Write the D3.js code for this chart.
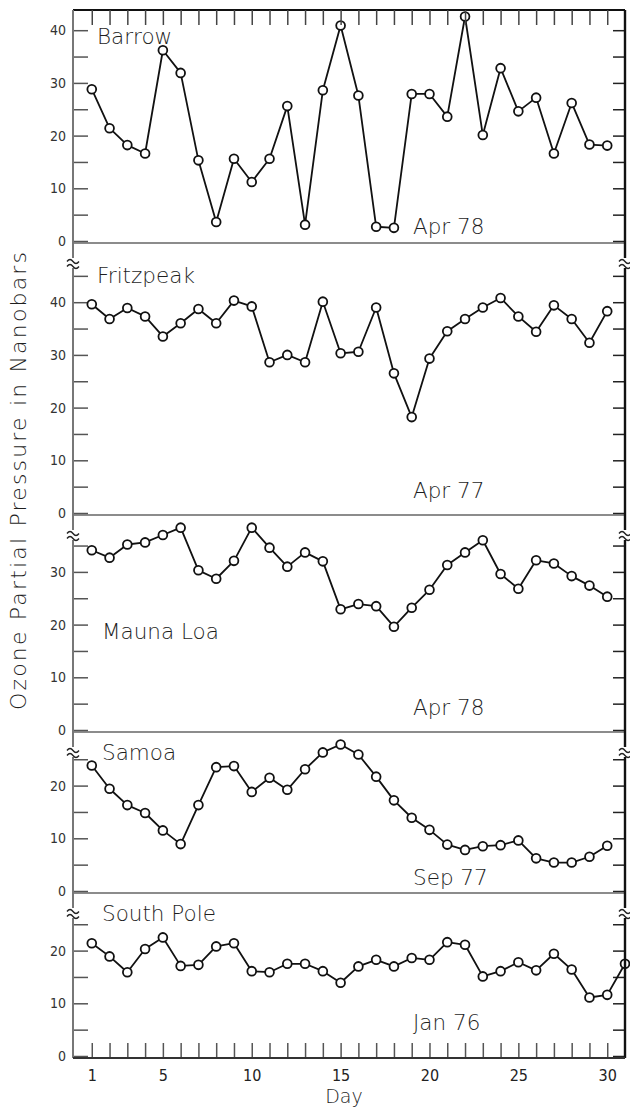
<!DOCTYPE html>
<html>
<head>
<meta charset="utf-8">
<script src="https://cdn.jsdelivr.net/npm/d3@7"></script>
<style>
  html, body { margin: 0; padding: 0; background: #fff; }
  svg { display: block; }
</style>
</head>
<body>
<svg id="chart" width="630" height="1112"></svg>
<script>
// Daily ozone partial pressure (nanobars) at five stations
const stationNames = ["Barrow", "Fritzpeak", "Mauna Loa", "Samoa", "South Pole"];
const monthLabels = ["Apr 78", "Apr 77", "Apr 78", "Sep 77", "Jan 76"];

const barrow = [28.8, 21.4, 18.2, 16.6, 36.2, 31.9, 15.3, 3.6, 15.6, 11.2, 15.6, 25.6, 3.1, 28.6, 40.9,
                27.6, 2.7, 2.5, 27.9, 27.9, 23.6, 42.6, 20.1, 32.8, 24.6, 27.2, 16.6, 26.2, 18.3, 18.1];
const fritzpeak = [39.6, 36.8, 38.9, 37.3, 33.5, 36.0, 38.7, 36.0, 40.3, 39.2, 28.6, 30.0, 28.6, 40.1, 30.3,
                   30.6, 39.0, 26.5, 18.2, 29.3, 34.5, 36.8, 39.0, 40.8, 37.3, 34.4, 39.4, 36.8, 32.3, 38.3];
const maunaLoa = [34.1, 32.7, 35.2, 35.6, 37.0, 38.4, 30.3, 28.7, 32.1, 38.4, 34.6, 31.0, 33.7, 32.0, 22.9,
                  23.9, 23.5, 19.6, 23.2, 26.6, 31.3, 33.7, 36.0, 29.6, 26.8, 32.2, 31.6, 29.2, 27.4, 25.3];
const samoa = [23.8, 19.4, 16.3, 14.8, 11.5, 8.9, 16.3, 23.5, 23.7, 18.8, 21.5, 19.2, 23.1, 26.3, 27.8,
               25.9, 21.7, 17.2, 13.9, 11.6, 8.8, 7.8, 8.5, 8.7, 9.6, 6.2, 5.4, 5.4, 6.5, 8.6];
const southPole = [21.4, 18.9, 15.9, 20.3, 22.5, 17.1, 17.3, 20.8, 21.4, 16.1, 15.9, 17.5, 17.5, 16.1, 13.9,
                   17.0, 18.25, 17.0, 18.6, 18.25, 21.6, 21.1, 15.1, 16.1, 17.8, 16.25, 19.4, 16.4, 11.1, 11.6, 17.5];

const seriesValues = [barrow, fritzpeak, maunaLoa, samoa, southPole];
const dayTickLabels = [1, 5, 10, 15, 20, 25, 30];

// Layout
const left = 73, right = 625;
const panelEdges = [10, 243, 515, 732, 893, 1058];   // top of each panel, last = bottom axis
const pxPerUnit = 5.27;
const zeroLift = 2;

const svg = d3.select("#chart");
const textColor = "#1e1e1e";
const labelFont = "'DejaVu Sans', sans-serif";
const labelWeight = 200;

const x = d3.scaleLinear().domain([0, 31]).range([left + 1, right]);

const lineGen = (y) => d3.line().x((d, i) => x(i + 1)).y(d => y(d));

function breakMark(g, cx, cy) {
  g.append("rect").attr("x", cx - 3).attr("y", cy - 5).attr("width", 6).attr("height", 10).attr("fill", "#fff");
  [-2.5, 2.5].forEach(dy => {
    g.append("path")
      .attr("d", `M${cx - 6},${cy + dy + 1} q3,-4 6,0 t6,0`)
      .attr("fill", "none").attr("stroke", "#222").attr("stroke-width", 1.3);
  });
}

seriesValues.forEach((vals, p) => {
  const top = panelEdges[p], bottom = panelEdges[p + 1];
  const zero = bottom - zeroLift;
  const maxVal = (zero - top) / pxPerUnit;
  const y = d3.scaleLinear().domain([0, maxVal]).range([zero, top]);
  const g = svg.append("g");

  // tick values every 5 units, keeping clear of the top edge / break mark
  const limit = p === 0 ? top + 12 : top + 24;
  const tickVals = d3.range(0, 60, 5).filter(v => y(v) >= limit && v <= maxVal);

  const leftAxis = d3.axisLeft(y)
    .tickValues(tickVals)
    .tickSizeInner(-15).tickSizeOuter(0).tickPadding(7)
    .tickFormat(v => v % 10 === 0 ? v : "");
  const la = g.append("g").attr("transform", `translate(${left},0)`).call(leftAxis);
  la.select(".domain").remove();
  la.selectAll(".tick line").attr("stroke", "#555").attr("stroke-width", 1.5);
  la.selectAll(".tick text")
    .attr("font-family", "'DejaVu Sans Condensed', 'DejaVu Sans', sans-serif")
    .attr("font-stretch", "condensed")
    .attr("font-size", 14).attr("fill", "#333");

  const rightAxis = d3.axisRight(y)
    .tickValues(tickVals)
    .tickSizeInner(-12).tickSizeOuter(0)
    .tickFormat("");
  const ra = g.append("g").attr("transform", `translate(${right},0)`).call(rightAxis);
  ra.select(".domain").remove();
  ra.selectAll(".tick line").attr("stroke", "#222").attr("stroke-width", 1.5);

  // separator / frame edge at the top of the panel
  g.append("line")
    .attr("x1", left).attr("x2", right).attr("y1", top).attr("y2", top)
    .attr("stroke", p === 0 ? "#111" : "#666").attr("stroke-width", p === 0 ? 2.2 : 1.6);

  // station and month labels
  g.append("text")
    .attr("x", p >= 2 ? 102 : 97)
    .attr("y", [44, 283, 639, 760, 921][p])
    .attr("font-family", labelFont).attr("font-weight", labelWeight)
    .attr("font-size", 21.5).attr("fill", textColor)
    .text(stationNames[p]);
  g.append("text")
    .attr("x", 413)
    .attr("y", [234, 498, 715, 885, 1030][p])
    .attr("font-family", labelFont).attr("font-weight", labelWeight)
    .attr("font-size", 21.5).attr("fill", textColor)
    .text(monthLabels[p]);

  // series line and open circle markers
  g.append("path")
    .datum(vals)
    .attr("d", lineGen(y))
    .attr("fill", "none").attr("stroke", "#111").attr("stroke-width", 1.8)
    .attr("stroke-linejoin", "round");
  g.selectAll("circle")
    .data(vals)
    .join("circle")
    .attr("cx", (d, i) => x(i + 1))
    .attr("cy", d => y(d))
    .attr("r", 4.4)
    .attr("fill", "#fff").attr("stroke", "#111").attr("stroke-width", 1.8);
});

// vertical frame lines
svg.append("line").attr("x1", left).attr("x2", left).attr("y1", panelEdges[0]).attr("y2", panelEdges[5])
  .attr("stroke", "#777").attr("stroke-width", 2);
svg.append("line").attr("x1", right).attr("x2", right).attr("y1", panelEdges[0]).attr("y2", panelEdges[5])
  .attr("stroke", "#111").attr("stroke-width", 2.4);

// axis break marks near the top of the lower four panels
const breaks = svg.append("g");
[1, 2, 3, 4].forEach(p => {
  const cy = panelEdges[p] + 20;
  breakMark(breaks, left, cy);
  breakMark(breaks, right, cy);
});

// top day ticks
const topAxis = d3.axisTop(x).tickValues(d3.range(1, 31)).tickSizeInner(-15).tickSizeOuter(0).tickFormat("");
const ta = svg.append("g").attr("transform", `translate(0,${panelEdges[0]})`).call(topAxis);
ta.select(".domain").remove();
ta.selectAll(".tick line").attr("stroke", "#444").attr("stroke-width", 1.5);

// bottom day axis
const bottomAxis = d3.axisBottom(x)
  .tickValues(d3.range(1, 31))
  .tickSizeInner(-15).tickSizeOuter(0).tickPadding(12)
  .tickFormat(d => dayTickLabels.includes(d) ? d : "");
const ba = svg.append("g").attr("transform", `translate(0,${panelEdges[5]})`).call(bottomAxis);
ba.select(".domain").remove();
ba.selectAll(".tick line").attr("stroke", "#555").attr("stroke-width", 1.5);
ba.selectAll(".tick text")
  .attr("font-family", "'DejaVu Sans Condensed', 'DejaVu Sans', sans-serif")
  .attr("font-stretch", "condensed")
  .attr("font-size", 16).attr("fill", "#222");
svg.append("line").attr("x1", left).attr("x2", right).attr("y1", panelEdges[5]).attr("y2", panelEdges[5])
  .attr("stroke", "#333").attr("stroke-width", 2);

// axis titles
svg.append("text")
  .attr("x", 344).attr("y", 1103)
  .attr("text-anchor", "middle")
  .attr("font-family", labelFont).attr("font-weight", labelWeight)
  .attr("font-size", 19).attr("fill", textColor)
  .text("Day");

svg.append("text")
  .attr("transform", "translate(26,481) rotate(-90)")
  .attr("text-anchor", "middle")
  .attr("font-family", labelFont).attr("font-weight", labelWeight)
  .attr("font-size", 22).attr("fill", textColor)
  .attr("textLength", 458).attr("lengthAdjust", "spacing")
  .text("Ozone Partial Pressure in Nanobars");
</script>
</body>
</html>
